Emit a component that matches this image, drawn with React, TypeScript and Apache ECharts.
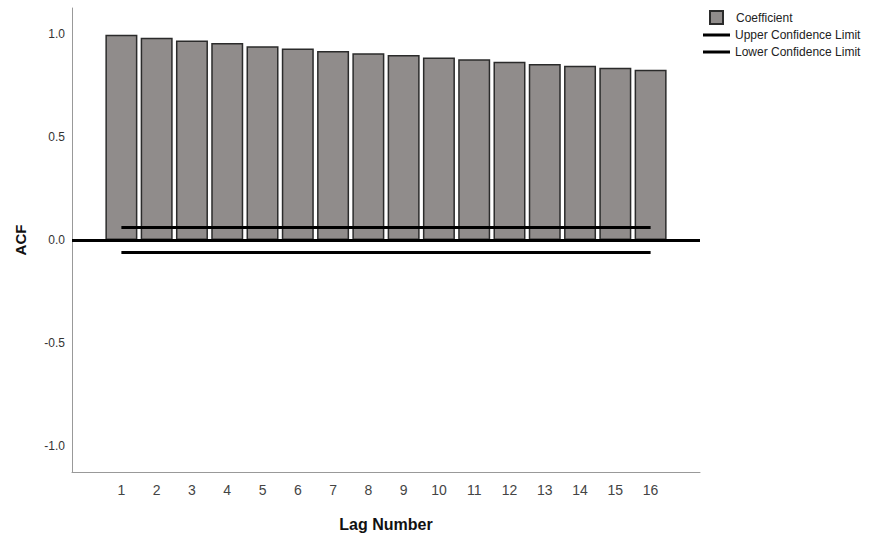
import React, { useEffect, useRef } from "react";
import * as echarts from "echarts";

const lags = [1, 2, 3, 4, 5, 6, 7, 8, 9, 10, 11, 12, 13, 14, 15, 16];
const coefficient = [0.995, 0.981, 0.968, 0.955, 0.94, 0.929, 0.917, 0.906, 0.897, 0.885, 0.876, 0.864, 0.854, 0.845, 0.835, 0.825];
const upperCL = [0.061, 0.061, 0.061, 0.061, 0.061, 0.061, 0.061, 0.061, 0.061, 0.061, 0.061, 0.061, 0.061, 0.061, 0.061, 0.061];
const lowerCL = [-0.061, -0.061, -0.061, -0.061, -0.061, -0.061, -0.061, -0.061, -0.061, -0.061, -0.061, -0.061, -0.061, -0.061, -0.061, -0.061];
const yTicks = [-1, -0.5, 0, 0.5, 1];

const FONT = "'Liberation Sans', Arial, sans-serif";

export default function App() {
  const ref = useRef<HTMLDivElement>(null);
  useEffect(() => {
    document.body.style.margin = "0";
    const chart = echarts.init(ref.current!, null, { renderer: "svg" });
    const legendBase = {
      orient: "vertical",
      selectedMode: false,
      textStyle: { fontFamily: FONT, fontSize: 12, color: "#222", lineHeight: 14 },
    };
    chart.setOption({
      animation: false,
      backgroundColor: "#ffffff",
      grid: { left: 72, right: 187, top: 8, bottom: 66 },
      legend: [
        {
          ...legendBase,
          left: 704,
          top: 5,
          itemWidth: 13,
          itemHeight: 13,
          data: [{ name: "Coefficient", icon: "rect" }],
          textStyle: { ...legendBase.textStyle, padding: [0, 0, 0, 8] },
        },
        {
          ...legendBase,
          left: 698,
          top: 23,
          itemWidth: 27,
          itemHeight: 3,
          data: [{ name: "Upper Confidence Limit", icon: "rect" }],
        },
        {
          ...legendBase,
          left: 698,
          top: 40,
          itemWidth: 27,
          itemHeight: 3,
          data: [{ name: "Lower Confidence Limit", icon: "rect" }],
        },
      ],
      xAxis: {
        type: "value",
        min: -0.4,
        max: 17.4,
        name: "Lag Number",
        nameLocation: "middle",
        nameGap: 44,
        nameTextStyle: { fontFamily: FONT, fontWeight: "bold", fontSize: 16, color: "#111" },
        axisLine: { show: true, onZero: false, lineStyle: { color: "#999", width: 1 } },
        axisTick: { show: false },
        splitLine: { show: false },
        axisLabel: {
          customValues: lags,
          fontFamily: FONT,
          fontSize: 14,
          color: "#444",
          margin: 11,
        },
      },
      yAxis: {
        type: "value",
        min: -1.125,
        max: 1.125,
        name: "ACF",
        nameLocation: "middle",
        nameGap: 44,
        nameTextStyle: { fontFamily: FONT, fontWeight: "bold", fontSize: 15, color: "#111" },
        axisLine: { show: true, onZero: false, lineStyle: { color: "#999", width: 1 } },
        axisTick: { show: false },
        splitLine: { show: false },
        axisLabel: {
          customValues: yTicks,
          formatter: (v: number) => v.toFixed(1),
          fontFamily: FONT,
          fontSize: 12,
          color: "#333",
          margin: 7,
        },
      },
      series: [
        {
          name: "Coefficient",
          type: "bar",
          barWidth: 32,
          data: lags.map((l, i) => [l, coefficient[i]]),
          itemStyle: { color: "#908c8b", borderColor: "#2b2b2b", borderWidth: 1.5 },
          markLine: {
            silent: true,
            symbol: "none",
            label: { show: false },
            lineStyle: { color: "#000", width: 3, type: "solid" },
            data: [{ yAxis: 0 }],
          },
        },
        {
          name: "Upper Confidence Limit",
          type: "line",
          showSymbol: false,
          symbol: "none",
          data: lags.map((l, i) => [l, upperCL[i]]),
          itemStyle: { color: "#000" },
          lineStyle: { color: "#000", width: 3 },
        },
        {
          name: "Lower Confidence Limit",
          type: "line",
          showSymbol: false,
          symbol: "none",
          data: lags.map((l, i) => [l, lowerCL[i]]),
          itemStyle: { color: "#000" },
          lineStyle: { color: "#000", width: 3 },
        },
      ],
    });
    return () => chart.dispose();
  }, []);
  return <div ref={ref} style={{ width: 887, height: 538 }} />;
}
